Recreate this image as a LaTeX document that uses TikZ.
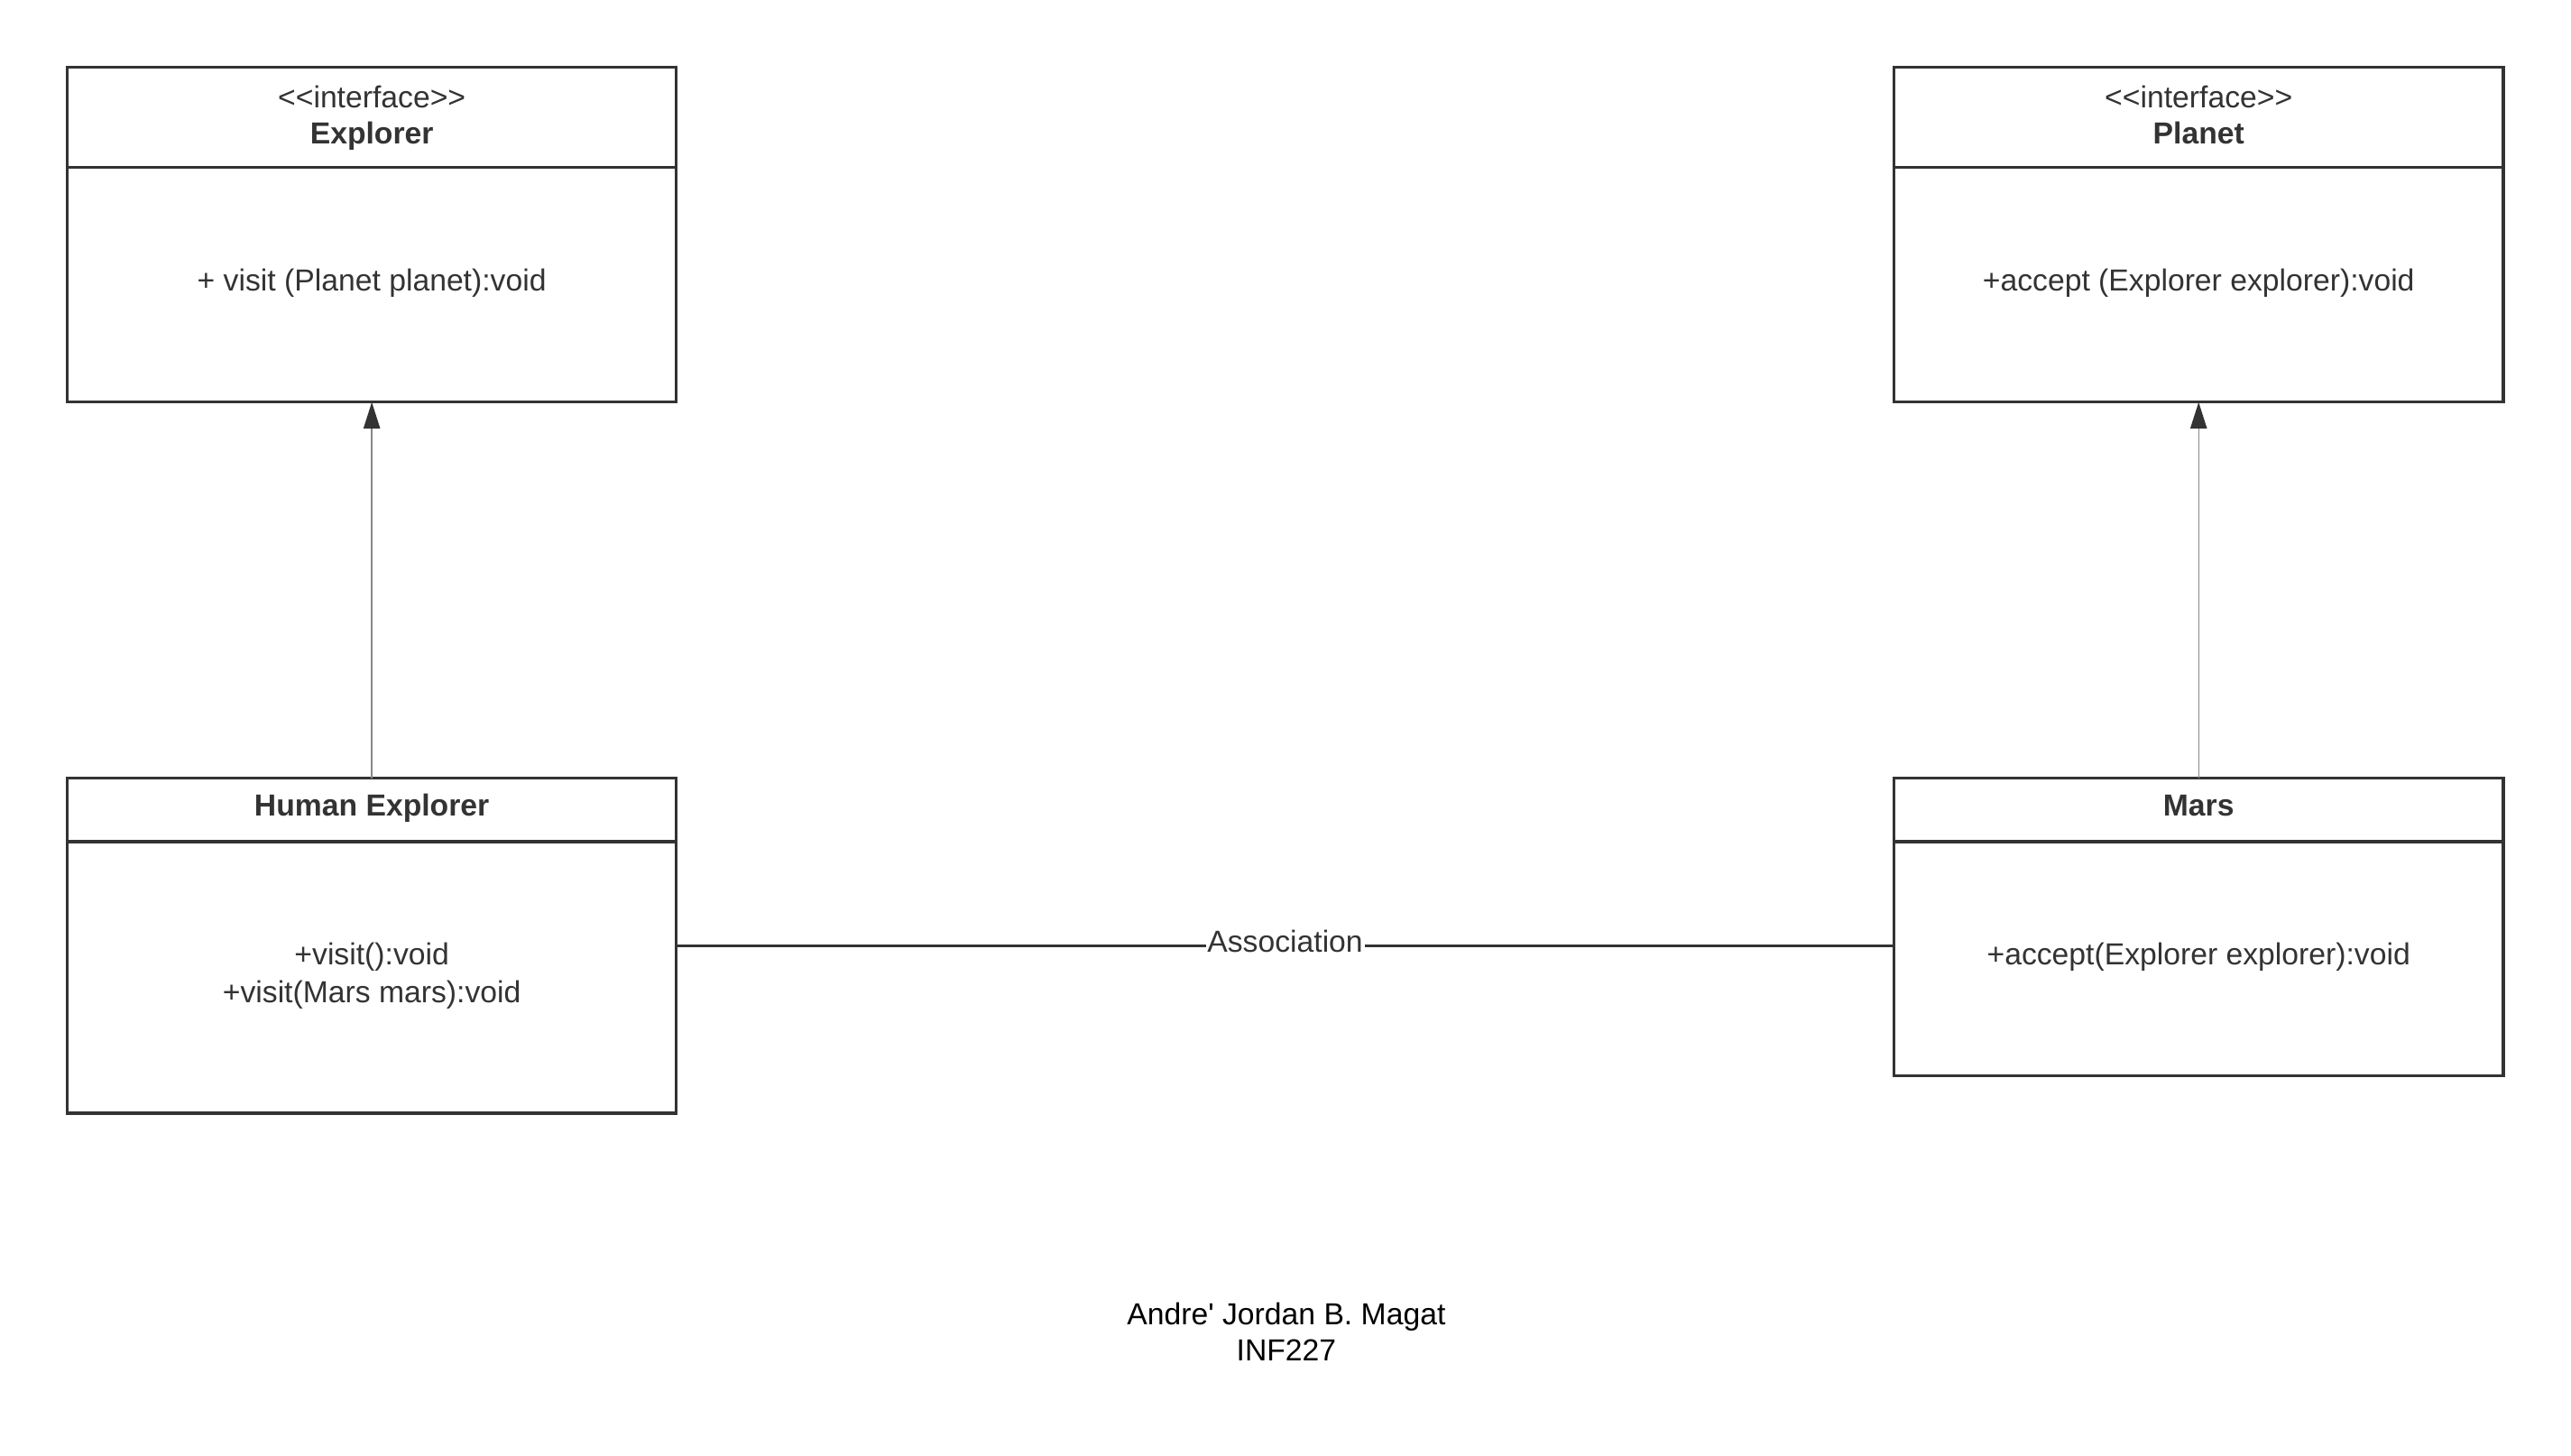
\documentclass[tikz,border=0pt]{standalone}
\usepackage{fontspec}
\setmainfont{Liberation Sans}[Ligatures=TeXOff]
\usetikzlibrary{arrows.meta}
\definecolor{ink}{HTML}{333333}
\definecolor{arrowline}{HTML}{888888}
\tikzset{
  classbox/.style={draw=ink, line width=1.8pt, inner sep=0pt, outer sep=0pt},
  divider/.style={draw=ink, line width=1.8pt},
  txt/.style={text=ink, inner sep=0pt, anchor=base, font=\fontsize{18.45}{22.6}\selectfont},
  title/.style={txt, font=\fontsize{18.45}{22.6}\selectfont\bfseries},
  gen/.style={draw=arrowline, line width=0.8pt, -{Triangle[width=10pt,length=16pt,color=ink]}},
  assoc/.style={draw=ink, line width=1.5pt},
  foot/.style={text=black, inner sep=0pt, anchor=base, font=\fontsize{18.45}{22.6}\selectfont}
}
\begin{document}
\begin{tikzpicture}[x=1pt,y=-1pt]
\useasboundingbox[fill=white] (0,0) rectangle (1560,883);
% boxes
\node[classbox, minimum width=369.4pt, minimum height=203.1pt] (explorer) at (225.6,142.45) {};
\node[classbox, minimum width=369.7pt, minimum height=203.1pt] (planet) at (1334.05,142.45) {};
\node[classbox, minimum width=369.4pt, minimum height=203.3pt] (human) at (225.6,573.85) {};
\node[classbox, minimum width=369.7pt, minimum height=180.4pt] (mars) at (1334.05,562.4) {};
% dividers
\draw[divider] (explorer.west |- 0,101.6) -- (explorer.east |- 0,101.6);
\draw[divider] (planet.west |- 0,101.6) -- (planet.east |- 0,101.6);
\draw[divider] (human.west |- 0,510.7) -- (human.east |- 0,510.7);
\draw[divider] (mars.west |- 0,510.7) -- (mars.east |- 0,510.7);
% texts
\node[txt] (exst) at (225.6,65.2) {<<interface>>};
\node[title] (exname) at (225.6,87.1) {Explorer};
\node[txt] (exop) at (225.6,176.7) {+ visit (Planet planet):void};
\node[txt] (plst) at (1334.05,65.2) {<<interface>>};
\node[title] (plname) at (1334.05,87.1) {Planet};
\node[txt] (plop) at (1334.05,176.7) {+accept (Explorer explorer):void};
\node[title] (huname) at (225.6,495.3) {Human Explorer};
\node[txt] (huop1) at (225.6,585.6) {+visit():void};
\node[txt] (huop2) at (225.6,608.2) {+visit(Mars mars):void};
\node[title] (maname) at (1334.05,495.3) {Mars};
\node[txt] (maop) at (1334.05,585.6) {+accept(Explorer explorer):void};
% connectors
\draw[gen] (human.north) -- (explorer.south);
\draw[gen] (mars.north) -- (planet.south);
\draw[assoc] (human.east) -- (human.east -| mars.west)
  node[midway, txt, fill=white, inner xsep=1pt, inner ysep=0pt, yshift=-3.8pt] (assoclabel) {Association};
% footer
\node[foot] (author) at (780.5,803.9) {Andre' Jordan B. Magat};
\node[foot] (course) at (780.5,825.8) {INF227};
\end{tikzpicture}
\end{document}
